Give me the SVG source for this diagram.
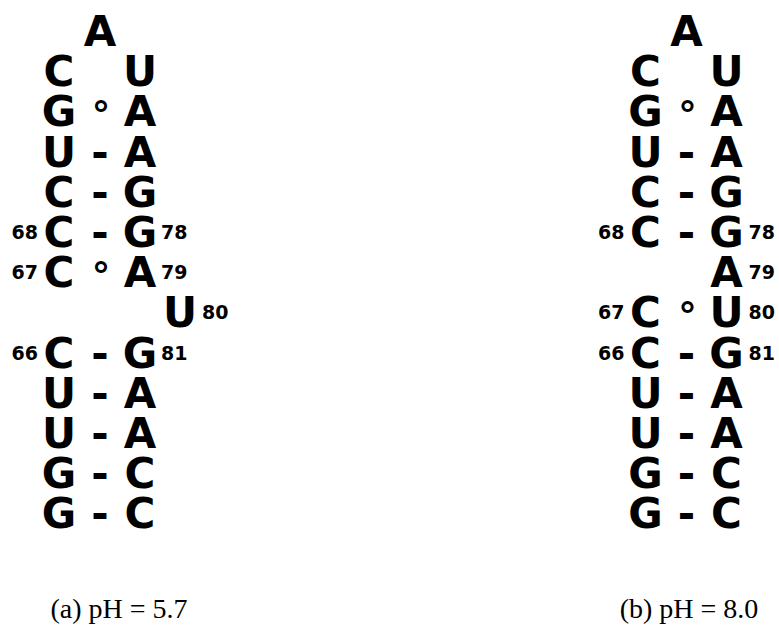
<svg xmlns="http://www.w3.org/2000/svg" width="779" height="626" viewBox="0 0 779 626">
<style>
text{font-family:"DejaVu Sans",sans-serif;font-weight:bold;fill:#000}
.b{font-size:42px;text-anchor:middle}
.p{font-size:37px;text-anchor:middle}
.n{font-size:19px}
.e{text-anchor:end}
.cap{font-family:"Liberation Serif","Times New Roman",serif;font-weight:normal;font-size:28px;text-anchor:middle}
</style>
<rect width="779" height="626" fill="#fff"/>
<g id="structure-a">
<g id="a-loop"><text class="b" x="100" y="46">A</text><text class="b" x="59" y="86">C</text><text class="b" x="140" y="86">U</text></g>
<g id="a-r2"><text class="b" x="59" y="126">G</text><text class="p" x="101" y="128">°</text><text class="b" x="140" y="126">A</text></g>
<g id="a-r3"><text class="b" x="59" y="166.5">U</text><text class="b" x="100" y="166.5">-</text><text class="b" x="140" y="166.5">A</text></g>
<g id="a-r4"><text class="b" x="59" y="207">C</text><text class="b" x="100" y="207">-</text><text class="b" x="140" y="207">G</text></g>
<g id="a-r5"><text class="n e" x="38" y="239">68</text><text class="b" x="59" y="247">C</text><text class="b" x="100" y="247">-</text><text class="b" x="140" y="247">G</text><text class="n" x="161" y="239">78</text></g>
<g id="a-r6"><text class="n e" x="38" y="279">67</text><text class="b" x="59" y="287">C</text><text class="p" x="101" y="289">°</text><text class="b" x="140" y="287">A</text><text class="n" x="161" y="279">79</text></g>
<g id="a-r7"><text class="b" x="180" y="327">U</text><text class="n" x="202" y="319">80</text></g>
<g id="a-r8"><text class="n e" x="38" y="360">66</text><text class="b" x="59" y="367.5">C</text><text class="b" x="100" y="367.5">-</text><text class="b" x="140" y="367.5">G</text><text class="n" x="161" y="360">81</text></g>
<g id="a-r9"><text class="b" x="59" y="408">U</text><text class="b" x="100" y="408">-</text><text class="b" x="140" y="408">A</text></g>
<g id="a-r10"><text class="b" x="59" y="448">U</text><text class="b" x="100" y="448">-</text><text class="b" x="140" y="448">A</text></g>
<g id="a-r11"><text class="b" x="59" y="488">G</text><text class="b" x="100" y="488">-</text><text class="b" x="140" y="488">C</text></g>
<g id="a-r12"><text class="b" x="59" y="528">G</text><text class="b" x="100" y="528">-</text><text class="b" x="140" y="528">C</text></g>
<text id="caption-a" class="cap" x="119" y="618">(a) pH = 5.7</text>
</g>
<g id="structure-b" transform="translate(586.5,0)">
<g id="b-loop"><text class="b" x="100" y="46">A</text><text class="b" x="59" y="86">C</text><text class="b" x="140" y="86">U</text></g>
<g id="b-r2"><text class="b" x="59" y="126">G</text><text class="p" x="101" y="128">°</text><text class="b" x="140" y="126">A</text></g>
<g id="b-r3"><text class="b" x="59" y="166.5">U</text><text class="b" x="100" y="166.5">-</text><text class="b" x="140" y="166.5">A</text></g>
<g id="b-r4"><text class="b" x="59" y="207">C</text><text class="b" x="100" y="207">-</text><text class="b" x="140" y="207">G</text></g>
<g id="b-r5"><text class="n e" x="38" y="239">68</text><text class="b" x="59" y="247">C</text><text class="b" x="100" y="247">-</text><text class="b" x="140" y="247">G</text><text class="n" x="162" y="239">78</text></g>
<g id="b-r6"><text class="b" x="140" y="287">A</text><text class="n" x="162" y="279">79</text></g>
<g id="b-r7"><text class="n e" x="38" y="319">67</text><text class="b" x="59" y="327">C</text><text class="p" x="101" y="329">°</text><text class="b" x="140" y="327">U</text><text class="n" x="162" y="319">80</text></g>
<g id="b-r8"><text class="n e" x="38" y="360">66</text><text class="b" x="59" y="367.5">C</text><text class="b" x="100" y="367.5">-</text><text class="b" x="140" y="367.5">G</text><text class="n" x="162" y="360">81</text></g>
<g id="b-r9"><text class="b" x="59" y="408">U</text><text class="b" x="100" y="408">-</text><text class="b" x="140" y="408">A</text></g>
<g id="b-r10"><text class="b" x="59" y="448">U</text><text class="b" x="100" y="448">-</text><text class="b" x="140" y="448">A</text></g>
<g id="b-r11"><text class="b" x="59" y="488">G</text><text class="b" x="100" y="488">-</text><text class="b" x="140" y="488">C</text></g>
<g id="b-r12"><text class="b" x="59" y="528">G</text><text class="b" x="100" y="528">-</text><text class="b" x="140" y="528">C</text></g>
<text id="caption-b" class="cap" x="102.5" y="618">(b) pH = 8.0</text>
</g>
<g id="connectors"></g>
</svg>
